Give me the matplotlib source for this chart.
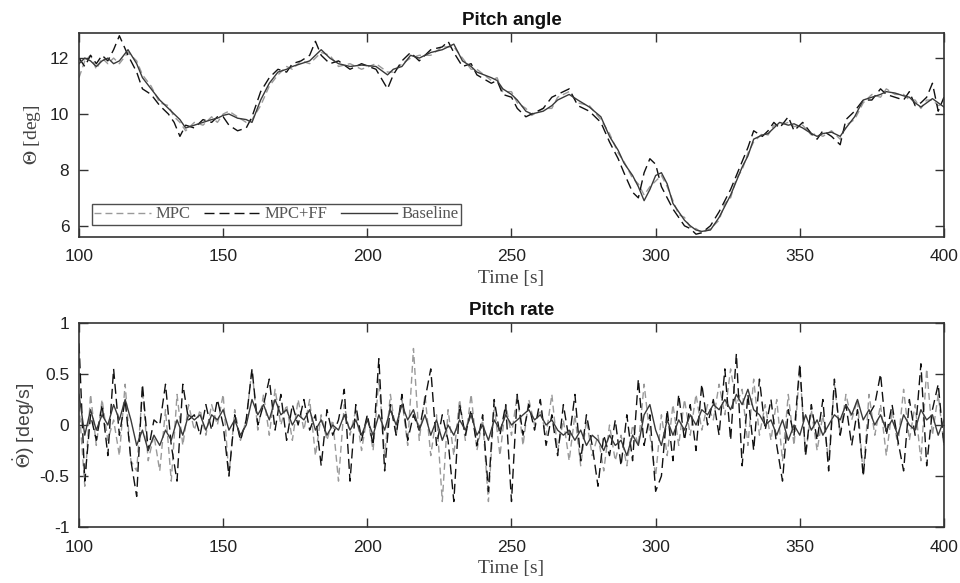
import matplotlib
matplotlib.use("Agg")
import matplotlib.pyplot as plt
import numpy as np

# ---- pitch angle data [deg] ----
t_base = [100, 102, 104, 106, 108, 110, 112, 114, 117, 120, 122, 125, 128, 131, 133, 135, 137, 140, 143, 146,
          148, 150, 152, 155, 158, 160, 163, 166, 169, 172, 174, 177, 180, 184, 187, 190, 194, 198, 203, 207,
          209, 212, 215, 218, 222, 226, 230, 233, 236, 238, 243, 245, 247, 250, 252, 255, 257, 261, 264, 266,
          270, 273, 277, 281, 284, 287, 289, 292, 294, 296, 298, 300, 302, 304, 306, 308, 310, 312, 314, 316,
          319, 322, 324, 326, 328, 330, 332, 334, 337, 339, 341, 343, 346, 348, 351, 354, 356, 358, 361, 364,
          366, 369, 372, 375, 378, 380, 383, 386, 388, 390, 392, 394, 396, 398, 400]
theta_base = [11.8, 12.0, 11.9, 11.7, 11.9, 12.0, 11.8, 11.9, 12.3, 11.8, 11.3, 10.9, 10.5, 10.2, 10.0, 9.8, 9.5, 9.6, 9.7, 9.8,
              9.85, 9.95, 10.0, 9.85, 9.8, 9.7, 10.5, 11.1, 11.5, 11.6, 11.7, 11.8, 11.9, 12.3, 12.0, 11.8, 11.7, 11.75, 11.7, 11.4,
              11.6, 11.7, 12.1, 12.0, 12.2, 12.3, 12.5, 11.9, 11.7, 11.5, 11.3, 11.2, 10.9, 10.7, 10.5, 10.1, 10.0, 10.1, 10.3, 10.5,
              10.7, 10.5, 10.25, 9.9, 9.2, 8.7, 8.25, 7.8, 7.4, 6.9, 7.3, 7.8, 7.9, 7.5, 6.8, 6.5, 6.2, 6.0, 5.85, 5.8,
              5.85, 6.3, 6.7, 7.1, 7.6, 8.1, 8.5, 9.1, 9.25, 9.3, 9.5, 9.7, 9.6, 9.65, 9.5, 9.3, 9.2, 9.3, 9.35, 9.2,
              9.5, 9.9, 10.5, 10.6, 10.7, 10.8, 10.75, 10.65, 10.6, 10.4, 10.25, 10.4, 10.55, 10.4, 10.25]

t_mpc = t_base
theta_mpc = [11.3, 11.9, 12.1, 11.6, 12.0, 11.8, 12.0, 11.8, 12.2, 11.9, 11.4, 11.0, 10.4, 10.3, 9.9, 9.7, 9.4, 9.7, 9.6, 9.9,
             9.7, 10.0, 10.1, 9.9, 9.7, 9.8, 10.3, 11.0, 11.4, 11.7, 11.6, 11.9, 11.8, 12.2, 12.1, 11.7, 11.8, 11.6, 11.8, 11.5,
             11.5, 11.8, 12.0, 12.1, 12.1, 12.4, 12.4, 12.0, 11.6, 11.6, 11.2, 11.3, 10.8, 10.8, 10.4, 10.2, 9.95, 10.2, 10.2, 10.6,
             10.8, 10.4, 10.3, 9.8, 9.3, 8.6, 8.3, 7.7, 7.5, 7.1, 7.4, 7.6, 7.8, 7.4, 6.9, 6.4, 6.3, 5.95, 5.9, 5.75,
             5.9, 6.2, 6.8, 7.0, 7.7, 8.0, 8.6, 9.0, 9.3, 9.25, 9.6, 9.6, 9.7, 9.55, 9.6, 9.25, 9.3, 9.2, 9.4, 9.1,
             9.6, 9.8, 10.4, 10.7, 10.6, 10.9, 10.7, 10.7, 10.5, 10.5, 10.2, 10.5, 10.5, 10.3, 10.35]

t_ff = [100, 102, 104, 106, 108, 110, 112, 114, 117, 120, 122, 125, 128, 131, 133, 135, 137, 140, 143, 146,
        148, 150, 152, 155, 158, 160, 163, 166, 169, 172, 174, 177, 180, 182, 184, 187, 190, 194, 198, 203,
        207, 209, 212, 215, 218, 222, 226, 228, 230, 233, 236, 238, 243, 245, 247, 250, 252, 255, 257, 261,
        264, 266, 270, 273, 277, 281, 284, 287, 289, 292, 294, 296, 298, 300, 302, 304, 306, 308, 310, 312,
        314, 316, 319, 322, 324, 326, 328, 330, 332, 334, 337, 339, 341, 343, 346, 348, 351, 354, 356, 358,
        361, 364, 366, 369, 372, 375, 378, 380, 383, 386, 388, 390, 392, 394, 396, 398, 400]
theta_ff = [12.0, 11.7, 12.1, 11.8, 12.1, 11.9, 12.3, 12.8, 12.1, 11.5, 10.9, 10.7, 10.3, 10.0, 9.7, 9.2, 9.6, 9.5, 9.8, 9.7,
            9.9, 9.9, 9.6, 9.4, 9.5, 9.9, 10.8, 11.3, 11.6, 11.5, 11.8, 11.9, 12.1, 12.6, 12.1, 11.8, 11.9, 11.6, 11.8, 11.6,
            10.9, 11.4, 11.9, 12.2, 11.9, 12.3, 12.4, 12.6, 12.2, 11.7, 11.8, 11.4, 11.1, 11.2, 10.7, 10.6, 10.2, 9.9, 10.0, 10.2,
            10.6, 10.7, 10.9, 10.3, 10.1, 9.7, 9.0, 8.4, 7.9, 7.2, 7.0, 7.9, 8.4, 8.2, 7.4, 7.0, 6.6, 6.3, 6.0, 5.9,
            5.7, 5.75, 6.0, 6.5, 6.9, 7.3, 7.8, 8.3, 8.8, 9.4, 9.2, 9.4, 9.7, 9.5, 9.9, 9.4, 9.7, 9.3, 9.1, 9.4,
            9.2, 8.9, 9.8, 10.1, 10.5, 10.5, 10.9, 10.7, 10.6, 10.5, 10.8, 10.3, 10.4, 10.6, 11.1, 10.1, 10.6]

# ---- pitch rate data [deg/s], sampled every 2 s from 100 to 400 ----
t_rate = np.arange(100, 401, 2)
rate_base = [0.30, -0.10, 0.15, -0.05, 0.10, 0.00, 0.20, 0.05, 0.25, 0.05,
             -0.20, -0.05, -0.25, -0.10, -0.20, -0.05, -0.15, 0.05, -0.10, 0.10,
             0.05, 0.10, -0.05, 0.10, 0.05, 0.15, -0.05, 0.05, -0.10, 0.00,
             0.25, 0.10, 0.20, 0.05, 0.25, 0.10, 0.15, 0.00, 0.10, 0.05,
             0.15, -0.05, 0.05, -0.10, 0.00, -0.05, 0.10, -0.05, 0.05, -0.10,
             0.05, -0.10, 0.10, -0.05, 0.15, 0.00, 0.20, 0.05, 0.15, -0.05,
             0.10, -0.10, 0.05, -0.15, 0.00, -0.10, 0.05, -0.05, 0.10, -0.10,
             0.00, -0.15, 0.05, -0.05, 0.10, 0.00, 0.05, 0.10, 0.15, 0.05,
             0.10, 0.00, 0.05, -0.05, -0.10, -0.05, -0.15, -0.05, -0.20, -0.10,
             -0.15, -0.25, -0.10, -0.20, -0.15, -0.30, -0.10, -0.20, 0.10, 0.20,
             -0.05, -0.20, 0.05, -0.10, 0.05, -0.05, 0.10, 0.00, 0.15, 0.10,
             0.20, 0.15, 0.25, 0.15, 0.30, 0.20, 0.35, 0.15, 0.10, 0.00,
             0.05, -0.10, 0.05, -0.15, 0.00, -0.10, 0.10, -0.05, 0.05, -0.10,
             0.00, 0.10, 0.05, 0.20, 0.10, 0.25, 0.05, 0.15, 0.00, 0.10,
             -0.05, 0.05, -0.10, 0.10, 0.00, -0.05, 0.15, 0.05, 0.10, -0.10,
             0.05]
rate_mpc = [0.20, -0.60, 0.30, -0.20, 0.25, -0.15, 0.05, -0.30, 0.40, -0.35,
            -0.45, 0.35, -0.35, -0.10, -0.45, 0.15, -0.55, 0.30, -0.20, 0.20,
            -0.05, 0.15, -0.10, 0.20, 0.00, 0.30, -0.50, 0.15, -0.15, 0.05,
            0.55, -0.05, 0.30, -0.10, 0.35, 0.00, 0.20, -0.15, 0.25, -0.05,
            0.25, -0.30, 0.10, -0.15, 0.05, -0.55, 0.20, -0.10, 0.15, -0.25,
            0.10, -0.25, 0.45, -0.30, 0.30, -0.10, 0.25, -0.20, 0.75, -0.15,
            0.30, -0.30, 0.10, -0.75, 0.15, -0.30, 0.25, -0.15, 0.30, -0.25,
            0.05, -0.75, 0.20, -0.30, 0.20, -0.10, 0.30, -0.20, 0.25, 0.00,
            0.15, -0.10, 0.30, -0.25, 0.05, -0.35, 0.10, -0.40, 0.05, -0.30,
            -0.10, -0.45, 0.00, -0.35, -0.10, -0.40, 0.00, -0.20, 0.40, -0.10,
            -0.50, 0.10, -0.30, 0.20, -0.20, 0.25, -0.10, 0.30, -0.05, 0.20,
            0.05, 0.40, 0.10, 0.55, 0.20, 0.35, -0.20, 0.45, -0.10, 0.20,
            -0.15, 0.25, -0.35, 0.30, -0.20, 0.55, -0.30, 0.15, -0.25, 0.10,
            -0.35, 0.40, -0.10, 0.30, 0.05, 0.25, -0.50, 0.30, -0.10, 0.20,
            -0.30, 0.15, -0.20, 0.35, -0.15, 0.20, -0.35, 0.55, -0.10, 0.30,
            -0.20]
rate_ff = [0.80, -0.55, 0.10, -0.15, 0.20, -0.30, 0.55, -0.10, 0.25, -0.35,
           -0.70, 0.40, -0.25, 0.05, 0.00, 0.40, -0.20, -0.55, 0.40, 0.05,
           0.10, -0.10, 0.20, -0.05, 0.25, 0.00, -0.50, 0.10, -0.15, 0.05,
           0.55, 0.00, 0.20, 0.45, -0.05, 0.30, -0.15, 0.20, 0.00, 0.25,
           -0.05, 0.10, -0.40, 0.15, -0.10, 0.05, 0.35, -0.55, 0.20, -0.15,
           0.10, -0.20, 0.65, -0.45, 0.20, -0.10, 0.30, -0.15, 0.10, -0.05,
           0.25, 0.55, -0.20, 0.10, -0.15, -0.75, 0.20, -0.10, 0.15, -0.20,
           0.10, -0.65, 0.25, -0.10, 0.20, -0.75, 0.30, -0.10, 0.20, -0.05,
           0.25, -0.20, 0.10, -0.30, 0.20, -0.15, 0.30, -0.35, 0.10, -0.20,
           -0.60, -0.10, -0.30, 0.05, -0.40, 0.10, -0.35, 0.45, -0.20, 0.10,
           -0.65, -0.50, 0.15, -0.35, 0.30, -0.15, 0.20, -0.25, 0.40, 0.00,
           0.25, -0.10, 0.55, -0.15, 0.70, -0.40, 0.30, -0.25, 0.45, -0.05,
           0.25, -0.20, -0.55, 0.15, -0.10, 0.60, -0.30, 0.20, -0.15, 0.25,
           -0.45, 0.45, -0.10, 0.20, -0.20, 0.15, -0.50, 0.10, 0.20, 0.50,
           -0.10, 0.20, -0.15, -0.45, 0.25, -0.10, 0.60, -0.40, 0.15, 0.40,
           -0.20]

serif = ["Liberation Serif", "DejaVu Serif"]
plt.rcParams["font.family"] = ["Liberation Sans", "DejaVu Sans"]
plt.rcParams["mathtext.fontset"] = "stix"

fig = plt.figure(figsize=(9.6, 5.83), dpi=100)
ax1 = fig.add_axes([0.0823, 0.5935, 0.901, 0.35])
ax2 = fig.add_axes([0.0823, 0.096, 0.901, 0.35])

c_mpc = "#9a9a9a"
c_ff = "#111111"
c_base = "#3a3a3a"
dash_mpc = (0, (5, 2.9))
dash_ff = (0, (7.2, 3.6))

ax1.plot(t_mpc, theta_mpc, color=c_mpc, ls=dash_mpc, lw=1.0, label="MPC")
ax1.plot(t_ff, theta_ff, color=c_ff, ls=dash_ff, lw=1.0, label="MPC+FF")
ax1.plot(t_base, theta_base, color=c_base, ls="-", lw=1.0, label="Baseline")

ax2.plot(t_rate, rate_mpc, color=c_mpc, ls=dash_mpc, lw=1.0)
ax2.plot(t_rate, rate_ff, color=c_ff, ls=dash_ff, lw=1.0)
ax2.plot(t_rate, rate_base, color=c_base, ls="-", lw=1.0)

for ax in (ax1, ax2):
    ax.set_xlim(100, 400)
    ax.set_xticks([100, 150, 200, 250, 300, 350, 400])
    ax.tick_params(direction="in", top=True, right=True, length=6.5, width=1.0,
                   labelsize=12.5, color="#333333", labelcolor="#222222", pad=7)
    ax.tick_params(axis="x", pad=9)
    for s in ax.spines.values():
        s.set_color("#333333")
        s.set_linewidth(1.2)
    ax.set_xlabel("Time [s]", fontfamily=serif, fontsize=14, labelpad=4, color="#444444")

ax1.set_ylim(5.6, 12.9)
ax1.set_yticks([6, 8, 10, 12])
ax1.set_ylabel(r"$\Theta$ [deg]", fontfamily=serif, fontsize=14, color="#444444", labelpad=5)
ax1.set_title("Pitch angle", fontsize=13.5, fontweight="bold", pad=6, color="#111111")

ax2.set_ylim(-1, 1)
ax2.set_yticks([-1, -0.5, 0, 0.5, 1])
ax2.set_yticklabels(["-1", "-0.5", "0", "0.5", "1"])
ax2.set_ylabel(r"$\dot{\Theta}$) [deg/s]", fontsize=14, color="#444444", labelpad=2)
ax2.set_title("Pitch rate", fontsize=13.5, fontweight="bold", pad=6, color="#111111")

leg = ax1.legend(loc="lower left", bbox_to_anchor=(0.015, 0.059), ncol=3, frameon=True,
                 fancybox=False, prop={"family": serif, "size": 12}, handlelength=3.4,
                 handletextpad=0.25, columnspacing=0.8, borderpad=0.15, borderaxespad=0)
leg.get_frame().set_edgecolor("#222222")
leg.get_frame().set_linewidth(1.0)
for txt in leg.get_texts():
    txt.set_color("#555555")

fig.savefig("out.png", dpi=100)
